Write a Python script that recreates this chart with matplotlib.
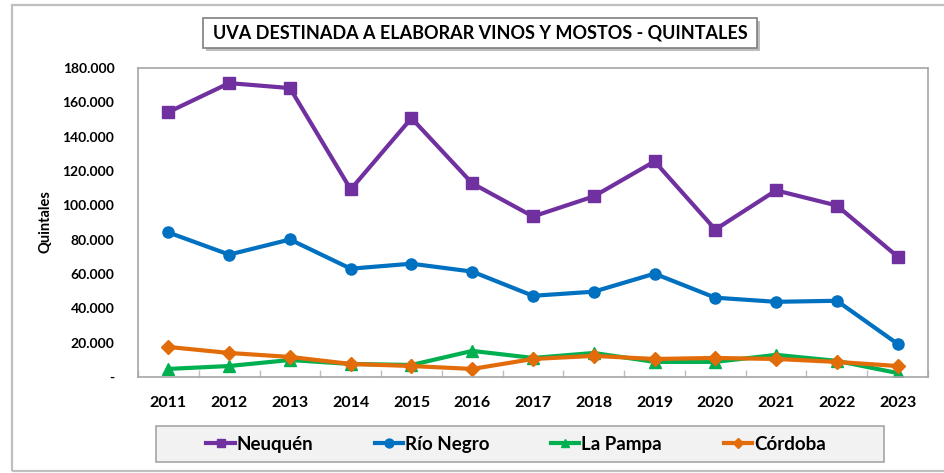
import numpy as np
import matplotlib
matplotlib.use('Agg')
import matplotlib.pyplot as plt
from matplotlib.patches import Rectangle
from matplotlib.ticker import FixedLocator


years = ['2011', '2012', '2013', '2014', '2015', '2016', '2017',
         '2018', '2019', '2020', '2021', '2022', '2023']
neuquen = [154300, 171200, 168300, 109300, 150800, 112800, 93500,
           105200, 125600, 85900, 108700, 99900, 70100]
rio_negro = [84200, 71300, 80100, 63100, 66000, 61400, 47300,
             49700, 60200, 46200, 43800, 44400, 19300]
la_pampa = [4700, 6400, 9900, 7600, 7000, 15200, 11100,
            14000, 8800, 8800, 12900, 9400, 2300]
cordoba = [17500, 14000, 11700, 7600, 6400, 4700, 10500,
           12300, 10500, 11100, 10500, 8800, 6400]
y_ticks = [0, 20000, 40000, 60000, 80000, 100000, 120000, 140000, 160000, 180000]
y_labels = ['-', '20.000', '40.000', '60.000', '80.000', '100.000',
            '120.000', '140.000', '160.000', '180.000']

plt.rcParams['font.family'] = ['Lato', 'DejaVu Sans']

W, H = 944, 473
fig = plt.figure(figsize=(W / 100, H / 100), dpi=100)


def box(x0, y0, x1, y1, **kw):
    # rectangulo en pixeles (origen arriba a la izquierda)
    fig.patches.append(Rectangle((x0 / W, 1 - y1 / H), (x1 - x0) / W, (y1 - y0) / H,
                                 transform=fig.transFigure, **kw))


# marco exterior
box(12, 5, 952, 471, fill=False, edgecolor='#bfbfbf', lw=1.6, zorder=0)

ax = fig.add_axes([138 / W, 1 - 377 / H, (928 - 138) / W, (377 - 68) / H])
x = np.arange(len(years))

series = [
    (neuquen, 'Neuquén', '#7030a0', 's', 8),
    (rio_negro, 'Río Negro', '#0070c0', 'o', 8),
    (la_pampa, 'La Pampa', '#00b050', '^', 8),
    (cordoba, 'Córdoba', '#e36c0a', 'D', 7),
]
for vals, name, col, mk, ms in series:
    ax.plot(x, vals, color=col, lw=3, marker=mk, markersize=ms,
            markeredgecolor=col, label=name, solid_joinstyle='round')

ax.set_xlim(-0.5, len(years) - 0.5)
ax.set_ylim(0, 180000)
ax.set_yticks(y_ticks)
ax.set_yticklabels(y_labels, fontsize=10, fontweight='bold')
ax.set_xticks(x)
ax.set_xticklabels(years, fontsize=11.5, fontweight='bold')
ax.xaxis.set_minor_locator(FixedLocator(np.arange(-0.5, len(years), 1.0)))
ax.tick_params(axis='y', length=0, pad=17)
ax.tick_params(axis='x', which='major', length=0, pad=14)
ax.tick_params(axis='x', which='minor', direction='in', length=5,
               color='#bfbfbf', width=1)
for s in ax.spines.values():
    s.set_color('#a6a6a6')
    s.set_linewidth(1.2)

fig.text(45 / W, 1 - 222 / H, 'Quintales', rotation=90, ha='center',
         va='center', fontsize=10.5, fontweight='bold')

# titulo con sombra
box(206, 21, 760, 51, facecolor='#bfbfbf', edgecolor='none', zorder=1)
box(203, 18, 757, 48, facecolor='white', edgecolor='#7f7f7f', lw=1.2, zorder=2)
fig.text(480 / W, 1 - 33 / H, 'UVA DESTINADA A ELABORAR VINOS Y MOSTOS - QUINTALES',
         ha='center', va='center', fontsize=13, fontweight='bold', zorder=3)

# leyenda
box(156, 426, 884, 462, facecolor='#f2f2f2', edgecolor='#a6a6a6', lw=1.2, zorder=1)
leg = fig.legend(loc='center', bbox_to_anchor=(516 / W, 1 - 444 / H),
                 ncol=4, frameon=False, prop={'weight': 'bold', 'size': 13.5},
                 handlelength=1.5, handletextpad=0.1, columnspacing=3.3,
                 markerscale=0.8)
leg.set_zorder(3)

fig.savefig('out.png', dpi=100)
